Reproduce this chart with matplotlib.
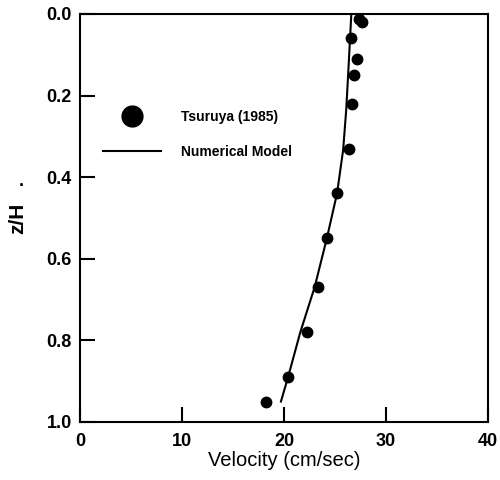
import matplotlib
matplotlib.use('Agg')
import matplotlib.pyplot as plt

plt.rcParams['font.family'] = ['Liberation Sans', 'DejaVu Sans']

# Tsuruya (1985) measurements
obs_vel = [27.4, 27.6, 26.6, 27.2, 26.9, 26.7, 26.4, 25.2, 24.2, 23.3, 22.3, 20.4, 18.2]
obs_zh = [0.012, 0.02, 0.06, 0.11, 0.15, 0.22, 0.33, 0.44, 0.55, 0.67, 0.78, 0.89, 0.95]

# numerical model profile
mod_vel = [26.6, 26.35, 26.1, 25.8, 25.2, 24.2, 23.0, 21.6, 20.4, 19.7]
mod_zh = [0.0, 0.12, 0.235, 0.333, 0.44, 0.55, 0.67, 0.78, 0.89, 0.95]

fig = plt.figure(figsize=(5, 4.8), dpi=100)
ax = fig.add_axes([0.16, 0.121, 0.816, 0.85])

ax.plot(obs_vel, obs_zh, 'ko', markersize=7.5, label='Tsuruya (1985)')
ax.plot(mod_vel, mod_zh, 'k-', linewidth=1.5, label='Numerical Model')

ax.set_xlim(0, 40)
ax.set_ylim(1.0, 0.0)
ax.set_xticks([0, 10, 20, 30, 40])
ax.set_yticks([0.0, 0.2, 0.4, 0.6, 0.8, 1.0])
ax.set_yticklabels(['0.0', '0.2', '0.4', '0.6', '0.8', '1.0'])
ax.tick_params(direction='in', length=11, width=1.5, labelsize=13)
ax.tick_params(axis='x', pad=8)
ax.tick_params(axis='y', pad=6)
for lab in ax.get_xticklabels() + ax.get_yticklabels():
    lab.set_fontweight('bold')
for s in ax.spines.values():
    s.set_linewidth(1.5)

ax.set_xlabel('Velocity (cm/sec)', fontsize=14.5, labelpad=1)
ax.set_ylabel('z/H', fontsize=15, fontweight='bold')
ax.yaxis.set_label_coords(-0.13, 0.5)
fig.text(0.038, 0.613, '.', fontsize=13, fontweight='bold')

leg = ax.legend(loc='center left', bbox_to_anchor=(0.056, 0.704), frameon=False,
                markerscale=2.0, handlelength=4.2, handletextpad=1.4,
                labelspacing=1.5, borderpad=0, borderaxespad=0,
                prop={'size': 10, 'weight': 'bold'})

fig.savefig('out.png', dpi=100)
